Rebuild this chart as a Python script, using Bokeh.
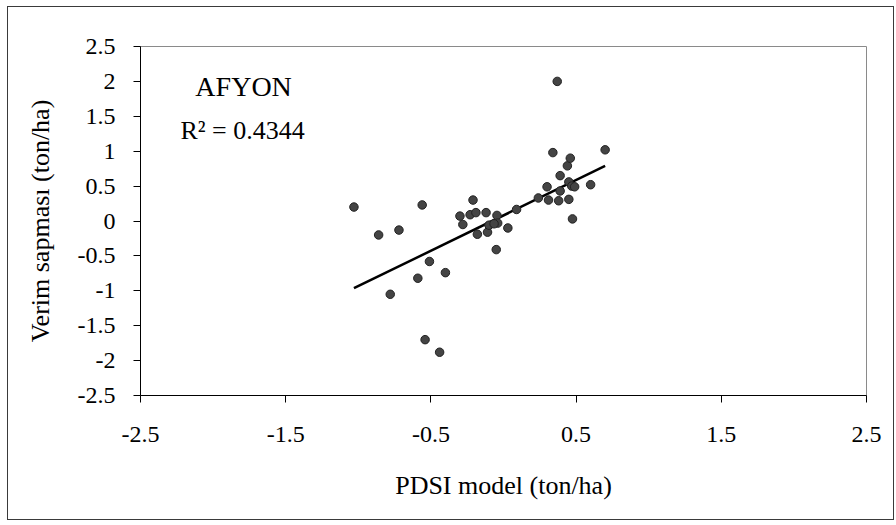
from bokeh.plotting import figure
from bokeh.models import Label, FixedTicker, Range1d
from bokeh.embed import file_html
from bokeh.resources import INLINE

# data
pdsi_model = [-1.03, -0.56, -0.86, -0.72, -0.78, -0.59, -0.51, -0.40,
              -0.21, -0.30, -0.28, -0.23, -0.19, -0.12, -0.18, -0.11,
              -0.10, -0.045, -0.04, -0.065, 0.03, -0.05, 0.09, 0.24,
              0.30, 0.31, 0.38, 0.34, 0.39, 0.39, 0.45, 0.44, 0.46,
              0.47, 0.49, 0.45, 0.475, 0.60, 0.70, 0.37, -0.54, -0.44]
verim_sapmasi = [0.20, 0.23, -0.20, -0.13, -1.05, -0.82, -0.58, -0.74,
                 0.30, 0.07, -0.05, 0.09, 0.12, 0.12, -0.19, -0.16,
                 -0.06, 0.08, -0.03, -0.04, -0.10, -0.41, 0.165, 0.33,
                 0.49, 0.30, 0.29, 0.98, 0.65, 0.43, 0.56, 0.79, 0.90,
                 0.50, 0.49, 0.31, 0.03, 0.52, 1.02, 2.00, -1.70, -1.88]
trend_slope = 1.013
trend_intercept = 0.08
r_squared = "0.4344"
station = "AFYON"
tick_values = [-2.5, -2.0, -1.5, -1.0, -0.5, 0.0, 0.5, 1.0, 1.5, 2.0, 2.5]
x_tick_values = [-2.5, -1.5, -0.5, 0.5, 1.5, 2.5]

FONT = "'Liberation Serif', 'Times New Roman', 'DejaVu Serif', serif"

p = figure(width=885, height=512, margin=(7, 3, 6, 8),
           output_backend="svg", toolbar_location=None,
           x_range=Range1d(-2.5, 2.5), y_range=Range1d(-2.5, 2.5),
           min_border_left=132, min_border_right=27,
           min_border_top=39, min_border_bottom=124)
p.styles = {"outline": "1.5px solid #3a3a3a"}
p.background_fill_color = "white"
p.border_fill_color = "white"
p.outline_line_color = "#8a8a8a"
p.outline_line_width = 1
p.grid.visible = False

# trend line from min to max x
tx = [min(pdsi_model), max(pdsi_model)]
ty = [trend_slope * v + trend_intercept for v in tx]
p.line(tx, ty, line_color="black", line_width=2.5)

p.scatter(pdsi_model, verim_sapmasi, size=8.5, fill_color="#444444",
          line_color="#222222", line_width=1)

for ax in (p.xaxis[0], p.yaxis[0]):
    ax.axis_line_color = "black"
    ax.axis_line_width = 1
    ax.major_tick_line_color = "black"
    ax.major_tick_in = 0
    ax.major_tick_out = 7
    ax.minor_tick_line_color = None
    ax.major_label_text_font = FONT
    ax.major_label_text_font_size = "24px"
    ax.major_label_text_color = "black"
    ax.axis_label_text_font = FONT
    ax.axis_label_text_font_size = "26px"
    ax.axis_label_text_font_style = "normal"
    ax.axis_label_text_color = "black"

p.xaxis.ticker = FixedTicker(ticks=x_tick_values)
p.yaxis.ticker = FixedTicker(ticks=tick_values)
p.xaxis.major_label_overrides = {v: (str(v) if v != 0 else "0") for v in x_tick_values}
p.yaxis.major_label_overrides = {v: ("0" if v == 0 else ("%g" % v)) for v in tick_values}
p.xaxis.major_label_standoff = 24
p.yaxis.major_label_standoff = 18
p.xaxis.axis_label = "PDSI model (ton/ha)"
p.yaxis.axis_label = "Verim sapması (ton/ha)"
p.xaxis.axis_label_standoff = 26
p.yaxis.axis_label_standoff = 20

p.add_layout(Label(x=-1.79, y=1.92, text=station, text_align="center",
                   text_baseline="middle", text_font=FONT,
                   text_font_size="28px", text_color="black"))
p.add_layout(Label(x=-1.797, y=1.30, text="R² = " + r_squared,
                   text_align="center", text_baseline="middle",
                   text_font=FONT, text_font_size="26px", text_color="black"))

open("out.html", "w").write(file_html(p, INLINE))
